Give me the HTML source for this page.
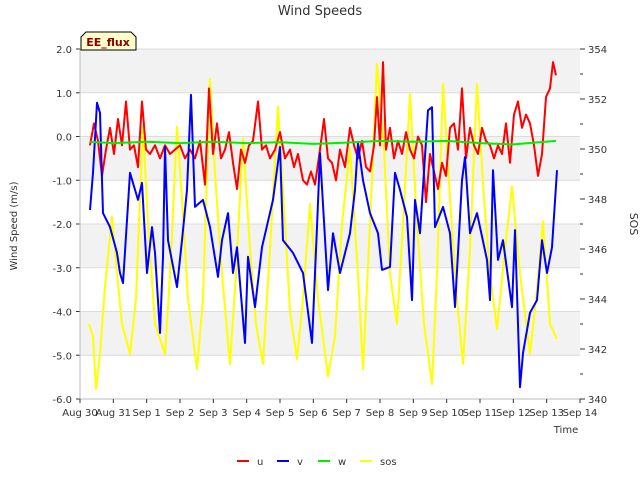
<!DOCTYPE html>
<html><head><meta charset="utf-8"><style>
body{margin:0;background:#fff;font-family:"Liberation Sans","DejaVu Sans",sans-serif}
svg text{font-family:"DejaVu Sans","Liberation Sans",sans-serif}
</style></head><body>
<svg id="chart" width="640" height="480" xmlns="http://www.w3.org/2000/svg">
<text x="320" y="15" text-anchor="middle" font-size="13" fill="#333">Wind Speeds</text>
<g id="bands"></g><g id="grid"></g><g id="axes"></g><g id="series"></g>
<g>
<path d="M81,50 L81,37 L86,32 L131,32 L136,37 L136,50 Z" fill="#ffffcc" stroke="#000" stroke-width="1"/>
<text x="108" y="46" text-anchor="middle" font-size="11" font-weight="bold" fill="#8b0000">EE_flux</text></g>
<text transform="translate(17,226) rotate(-90)" text-anchor="middle" font-size="10" fill="#333">Wind Speed (m/s)</text>
<text transform="translate(630,224) rotate(90)" text-anchor="middle" font-size="11" fill="#333">SOS</text>
<text x="566" y="433" text-anchor="middle" font-size="10" fill="#333">Time</text>
<g id="legend"></g>
</svg>
<script>
const xLabels=["Aug 30","Aug 31","Sep 1","Sep 2","Sep 3","Sep 4","Sep 5","Sep 6","Sep 7","Sep 8","Sep 9","Sep 10","Sep 11","Sep 12","Sep 13","Sep 14"];
const yTicks=[2,1,0,-1,-2,-3,-4,-5,-6];
const y2Ticks=[340,342,344,346,348,350,352,354];
const uDays=[0.3,0.42,0.54,0.66,0.78,0.9,1.02,1.14,1.26,1.38,1.5,1.62,1.74,1.86,1.98,2.1,2.25,2.4,2.55,2.7,2.85,3.0,3.15,3.3,3.45,3.6,3.75,3.87,3.99,4.11,4.23,4.35,4.47,4.59,4.71,4.83,4.95,5.07,5.19,5.34,5.46,5.58,5.7,5.85,6.0,6.15,6.3,6.42,6.54,6.69,6.81,6.93,7.05,7.2,7.32,7.44,7.56,7.68,7.8,7.95,8.1,8.22,8.34,8.46,8.58,8.7,8.82,8.91,9.0,9.09,9.18,9.3,9.42,9.54,9.66,9.78,9.9,10.02,10.14,10.26,10.38,10.5,10.62,10.74,10.86,10.98,11.1,11.22,11.34,11.46,11.58,11.7,11.82,11.94,12.06,12.18,12.3,12.42,12.54,12.66,12.78,12.9,13.02,13.14,13.26,13.38,13.5,13.62,13.74,13.86,13.98,14.1,14.19,14.28];
const uVals=[-0.2,0.3,-0.1,-0.9,-0.3,0.2,-0.4,0.4,-0.2,0.8,-0.3,-0.2,-0.7,0.8,-0.3,-0.4,-0.2,-0.5,-0.2,-0.4,-0.3,-0.2,-0.5,-0.3,-0.5,-0.1,-1.1,1.1,-0.4,0.3,-0.5,-0.3,0.1,-0.6,-1.2,-0.3,-0.6,-0.2,-0.1,0.8,-0.3,-0.2,-0.5,-0.3,0.1,-0.5,-0.3,-0.7,-0.4,-1.0,-1.1,-0.8,-1.1,-0.3,0.4,-0.5,-0.6,-1.0,-0.3,-0.7,0.2,-0.2,-0.5,-0.1,-0.7,-0.8,-0.2,0.9,-0.2,1.7,-0.3,0.2,-0.5,-0.1,-0.4,0.1,-0.3,-0.5,0.0,-0.2,-1.5,-0.4,-0.8,-1.2,-0.6,-0.9,0.2,0.3,-0.3,1.1,-0.5,0.2,-0.2,-0.4,0.2,-0.1,-0.2,-0.5,-0.2,-0.4,0.3,-0.6,0.5,0.8,0.2,0.5,0.3,-0.2,-0.9,-0.4,0.9,1.1,1.7,1.4];
const vDays=[0.3,0.39,0.51,0.6,0.69,0.9,1.11,1.2,1.29,1.5,1.74,1.86,2.01,2.16,2.25,2.4,2.49,2.55,2.64,2.91,3.06,3.21,3.33,3.45,3.69,3.9,4.14,4.26,4.44,4.59,4.71,4.95,5.04,5.25,5.46,5.79,6.0,6.09,6.39,6.69,6.96,7.11,7.2,7.44,7.59,7.8,8.1,8.25,8.34,8.49,8.7,8.94,9.06,9.3,9.45,9.6,9.81,9.96,10.05,10.2,10.44,10.56,10.65,10.89,11.1,11.25,11.46,11.55,11.7,11.91,12.21,12.3,12.39,12.54,12.69,12.96,13.05,13.2,13.29,13.5,13.71,13.86,14.01,14.16,14.31];
const vVals=[-1.68,-0.83,0.77,0.54,-1.75,-2.07,-2.66,-3.12,-3.35,-0.83,-1.45,-1.06,-3.12,-2.07,-2.66,-4.49,-2.75,-0.24,-2.37,-3.44,-2.37,-1.22,0.95,-1.61,-1.45,-2.07,-3.21,-2.37,-1.75,-3.12,-2.53,-4.72,-2.75,-3.9,-2.53,-1.45,-0.24,-2.37,-2.66,-3.12,-4.72,-2.07,-0.38,-3.51,-2.21,-3.12,-2.21,-1.22,-0.15,-1.0,-1.75,-2.21,-3.05,-2.98,-0.83,-1.22,-1.84,-3.74,-1.45,-2.21,0.6,0.67,-2.07,-1.61,-2.21,-3.9,-1.0,-0.47,-2.21,-1.75,-2.82,-3.74,-0.77,-2.82,-2.37,-3.9,-2.14,-5.73,-4.95,-4.03,-3.74,-2.37,-3.12,-2.53,-0.77];
const wDays=[0.3,1.0,2.0,3.0,4.0,5.0,6.0,7.0,8.0,9.0,10.0,11.0,12.0,13.0,14.28];
const wVals=[-0.12,-0.15,-0.12,-0.15,-0.12,-0.15,-0.13,-0.17,-0.14,-0.1,-0.12,-0.1,-0.15,-0.18,-0.1];
const sosDays=[0.27,0.39,0.48,0.6,0.75,0.96,1.11,1.26,1.5,1.68,1.8,1.89,2.04,2.25,2.55,2.7,2.91,3.06,3.24,3.51,3.69,3.9,4.05,4.26,4.5,4.68,4.89,5.1,5.28,5.49,5.7,5.94,6.15,6.3,6.51,6.69,6.9,7.14,7.44,7.65,7.86,8.1,8.34,8.49,8.7,8.91,9.12,9.3,9.51,9.69,9.9,10.11,10.32,10.56,10.71,10.89,11.1,11.31,11.49,11.7,11.91,12.12,12.3,12.51,12.75,12.96,13.2,13.5,13.68,13.89,14.1,14.31];
const sosVals=[343.0,342.5,340.4,341.8,344.5,347.3,345.0,343.0,341.8,344,348,350.9,347,343,341.8,345,350.9,348,344,341.2,344,352.8,349,345,341.4,345,350.4,346,343,341.4,346,351.7,347,343.5,341.6,344,347.8,344,340.9,342.5,347,350,345,341.2,347,353.4,350,345,343.0,347,352.2,347,343,340.6,345,352.6,348,344,341.4,346,352.6,348,345,342.8,346,348.5,345,341.8,344,347.1,343,342.4];

const L=80,R=580,T=49,B=399,NS="http://www.w3.org/2000/svg";
const xS=d=>L+d*(R-L)/15;
const yS=v=>T+(2-v)*(B-T)/8;
const y2S=v=>T+(354-v)*(B-T)/14;
function mk(tag,attrs,parent){const e=document.createElementNS(NS,tag);for(const k in attrs)e.setAttribute(k,attrs[k]);document.getElementById(parent).appendChild(e);return e;}

for(let i=0;i<8;i++){if(i%2===0){const b=mk('rect',{x:L,y:yS(2-i),width:R-L,height:(B-T)/8,fill:'#f2f2f2'},'bands');

}}
yTicks.forEach(v=>{const g=mk('line',{x1:L,x2:R,y1:yS(v),y2:yS(v),stroke:'#dcdcdc','stroke-width':1},'grid');


const t=mk('text',{x:L-8,y:yS(v)+4,'text-anchor':'end','font-size':10,fill:'#333'},'axes');t.textContent=v.toFixed(1);


mk('line',{x1:L-4,x2:L,y1:yS(v),y2:yS(v),stroke:'#333'},'axes');});
mk('line',{x1:L,x2:L,y1:T,y2:B,stroke:'#bbb'},'axes');
mk('line',{x1:L,x2:R,y1:B,y2:B,stroke:'#bbb'},'axes');
xLabels.forEach((s,i)=>{const t=mk('text',{x:xS(i),y:416,'text-anchor':'middle','font-size':10,fill:'#333'},'axes');t.textContent=s;


mk('line',{x1:xS(i),x2:xS(i),y1:B,y2:B+4,stroke:'#333'},'axes');});
for(let v=340;v<=354;v++){mk('line',{x1:R,x2:R+(v%2?3:5),y1:y2S(v),y2:y2S(v),stroke:'#333'},'axes');}
y2Ticks.forEach(v=>{const t=mk('text',{x:R+8,y:y2S(v)+4,'font-size':10,fill:'#333'},'axes');t.textContent=v;

});

function line(days,vals,sc,color,name){const d=days.map((t,i)=>(i?'L':'M')+xS(t).toFixed(1)+','+sc(vals[i]).toFixed(1)).join(' ');
const p=mk('path',{d:d,fill:'none',stroke:color,'stroke-width':2,'stroke-linejoin':'round'},'series');

}
line(sosDays,sosVals,y2S,'#ffff00','sos-line');
line(uDays,uVals,yS,'#ff0000','u-line');
line(vDays,vVals,yS,'#0000ff','v-line');
line(wDays,wVals,yS,'#00ee00','w-line');

const legNames=["u","v","w","sos"],legColors=["#ff0000","#0000ff","#00ee00","#ffff00"],legX=[237,277,318,360];
legNames.forEach((n,i)=>{mk('line',{x1:legX[i],x2:legX[i]+12,y1:461,y2:461,stroke:legColors[i],'stroke-width':2},'legend');
const t=mk('text',{x:legX[i]+20,y:465,'font-size':10,fill:'#333'},'legend');t.textContent=n;

});
</script>
</body></html>
